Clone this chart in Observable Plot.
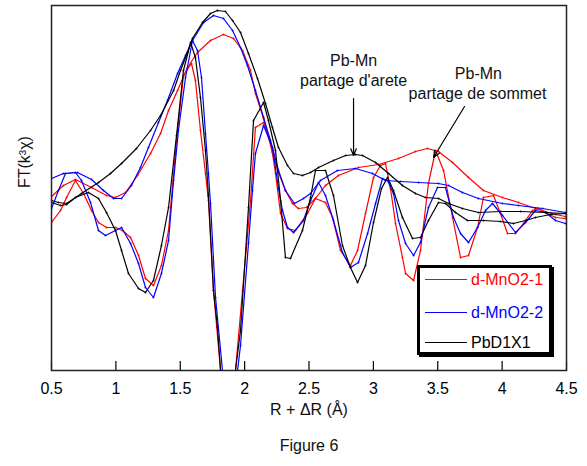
<!DOCTYPE html>
<html>
<head>
<meta charset="utf-8">
<script src="https://cdn.jsdelivr.net/npm/d3@7"></script>
<script src="https://cdn.jsdelivr.net/npm/@observablehq/plot@0.6"></script>
<style>
  html, body { margin: 0; padding: 0; background: #fff; }
  #wrap { position: relative; width: 587px; font-family: "Liberation Sans", Arial, sans-serif; }
  #legend { position: absolute; left: 417px; top: 265px; width: 135px; height: 90px;
            border: 3px solid #000; box-shadow: 2px 2px 0 #000; background: #fff; box-sizing: border-box; }
  .row { position: absolute; left: 5px; height: 18px; font-size: 16px; line-height: 18px; white-space: nowrap; }
  .row span.sw { display: inline-block; width: 42px; height: 0; border-top: 1.3px solid; vertical-align: middle; margin-right: 4px; position: relative; top: -1px; }
</style>
</head>
<body>
<div id="wrap">
  <div id="chart"></div>
  <div id="legend"></div>
</div>
<script>
// x ticks (R + ΔR, Å)
const xTicks = [0.5, 1, 1.5, 2, 2.5, 3, 3.5, 4, 4.5];

// [R, FT] pairs (arbitrary units)
const redMag = [[0.500,2.4],[0.593,3.5],[0.686,4.1],[0.811,3.3],[0.927,2.5],[0.997,2.3],[1.075,2.8],[1.168,4.5],[1.269,6.7],[1.347,8.7],[1.409,11.0],[1.479,13.0],[1.556,15.3],[1.634,16.8],[1.735,18.0],[1.836,18.6],[1.914,18.2],[1.984,17.0],[2.046,15.0],[2.084,12.7],[2.147,10.2],[2.216,6.8],[2.263,4.8],[2.317,3.0],[2.372,1.7],[2.418,1.2],[2.481,1.3],[2.550,2.2],[2.628,3.5],[2.729,4.5],[2.884,5.3],[3.040,5.6],[3.195,6.2],[3.327,6.9],[3.420,7.2],[3.506,6.9],[3.615,5.8],[3.739,4.3],[3.855,3.0],[4.003,2.3],[4.127,1.8],[4.259,1.2],[4.415,0.6],[4.492,0.4]];
const redIm = [[0.500,-0.2],[0.570,1.0],[0.617,2.3],[0.686,4.0],[0.749,2.7],[0.811,1.0],[0.865,-0.2],[0.927,-0.7],[0.997,-0.7],[1.051,-1.0],[1.114,-1.7],[1.176,-3.5],[1.230,-5.8],[1.292,-6.5],[1.354,-4.5],[1.409,-1.0],[1.471,8.0],[1.525,14.5],[1.587,15.7],[1.618,14.0],[1.657,9.0],[1.696,4.7],[1.719,2.0],[1.758,-7.0],[1.813,-15.0],[1.875,-22.5],[1.929,-15.0],[1.984,-7.0],[2.046,2.0],[2.084,9.3],[2.147,9.8],[2.201,8.0],[2.240,4.7],[2.279,0.7],[2.333,-0.8],[2.395,-1.0],[2.488,0.7],[2.550,2.2],[2.628,1.8],[2.683,0.3],[2.745,-3.0],[2.822,-4.5],[2.877,-3.0],[2.939,0.7],[3.001,4.3],[3.055,5.5],[3.094,5.7],[3.133,3.2],[3.172,-0.3],[3.226,-3.7],[3.250,-5.3],[3.312,-6.0],[3.366,-3.0],[3.428,3.7],[3.483,7.0],[3.545,5.0],[3.615,0.3],[3.677,-3.7],[3.739,-3.5],[3.809,-0.7],[3.855,2.3],[3.933,2.5],[3.987,0.7],[4.042,-1.3],[4.104,-1.3],[4.166,-0.3],[4.236,1.0],[4.283,1.2],[4.337,0.8],[4.415,0.3],[4.492,0.2]];
const blueMag = [[0.500,4.2],[0.593,4.7],[0.702,4.8],[0.811,4.1],[0.904,3.0],[0.982,2.2],[1.044,2.2],[1.121,3.5],[1.191,5.3],[1.253,7.3],[1.331,9.8],[1.401,12.0],[1.479,14.7],[1.541,16.5],[1.595,18.0],[1.681,19.8],[1.758,20.5],[1.836,20.2],[1.906,19.0],[1.968,17.3],[2.022,15.5],[2.084,13.0],[2.147,10.3],[2.216,7.3],[2.263,5.0],[2.317,3.0],[2.387,1.7],[2.457,2.2],[2.512,2.7],[2.589,4.0],[2.721,5.0],[2.861,5.2],[2.993,4.7],[3.094,4.0],[3.211,3.9],[3.351,3.8],[3.506,3.7],[3.584,3.5],[3.692,2.8],[3.816,2.2],[4.003,1.7],[4.127,1.5],[4.314,1.2],[4.492,0.8]];
const blueIm = [[0.500,1.2],[0.554,3.0],[0.609,4.7],[0.686,4.8],[0.733,4.0],[0.803,1.8],[0.865,-1.0],[0.919,-1.5],[0.997,-1.0],[1.044,-0.7],[1.114,-2.3],[1.176,-4.3],[1.230,-6.7],[1.292,-7.7],[1.354,-5.3],[1.409,-2.0],[1.448,4.0],[1.486,9.0],[1.541,14.3],[1.595,18.0],[1.634,17.0],[1.665,14.3],[1.696,8.7],[1.719,4.7],[1.735,1.7],[1.774,-7.7],[1.828,-15.0],[1.883,-22.5],[1.945,-15.0],[1.968,-12.5],[2.030,-2.3],[2.061,3.0],[2.084,6.7],[2.147,9.5],[2.216,7.3],[2.263,3.2],[2.294,1.0],[2.333,-0.7],[2.380,-1.2],[2.457,0.0],[2.512,2.0],[2.574,3.8],[2.628,2.5],[2.690,0.0],[2.760,-3.2],[2.822,-4.7],[2.884,-4.2],[2.955,-1.3],[3.017,1.7],[3.071,4.2],[3.110,4.0],[3.156,2.7],[3.195,0.0],[3.250,-2.3],[3.312,-3.5],[3.366,-2.2],[3.428,1.3],[3.498,3.3],[3.560,3.3],[3.622,0.3],[3.677,-1.3],[3.739,-2.2],[3.809,-0.7],[3.871,1.0],[3.925,1.7],[4.003,0.5],[4.104,-1.2],[4.182,-0.2],[4.259,1.0],[4.337,0.8],[4.415,0.0],[4.492,-0.3]];
const blackMag = [[0.500,2.0],[0.554,1.8],[0.617,1.7],[0.733,2.7],[0.865,3.8],[0.958,4.7],[1.044,5.7],[1.160,7.2],[1.269,9.0],[1.347,10.5],[1.448,13.0],[1.502,15.0],[1.556,16.8],[1.595,18.2],[1.673,19.8],[1.735,20.7],[1.789,21.0],[1.851,20.9],[1.906,20.0],[1.968,18.8],[2.030,16.7],[2.100,14.2],[2.162,11.7],[2.216,9.3],[2.263,7.3],[2.333,5.5],[2.380,4.7],[2.449,4.5],[2.512,4.8],[2.574,5.3],[2.690,6.0],[2.784,6.5],[2.861,6.6],[2.916,6.5],[3.017,5.8],[3.118,4.7],[3.226,3.5],[3.327,2.7],[3.405,2.3],[3.506,2.2],[3.584,1.7],[3.692,1.2],[3.816,0.8],[3.987,0.9],[4.143,0.9],[4.337,0.8],[4.492,0.7]];
const blackIm = [[0.500,1.8],[0.570,1.5],[0.617,1.6],[0.686,2.3],[0.787,2.8],[0.865,2.2],[0.927,0.8],[0.997,-1.0],[1.044,-3.0],[1.098,-5.3],[1.176,-6.8],[1.230,-7.2],[1.292,-6.0],[1.354,-2.5],[1.409,1.3],[1.471,8.5],[1.525,15.0],[1.580,17.8],[1.618,16.3],[1.657,12.3],[1.696,7.0],[1.719,2.5],[1.758,-7.0],[1.789,-10.7],[1.813,-15.0],[1.867,-22.5],[1.914,-16.5],[1.968,-11.0],[2.030,1.3],[2.069,10.0],[2.147,11.8],[2.185,10.0],[2.240,7.0],[2.279,2.0],[2.317,-3.7],[2.356,-3.8],[2.449,-1.0],[2.512,2.3],[2.550,5.0],[2.628,5.0],[2.690,2.5],[2.760,-2.5],[2.822,-4.7],[2.877,-6.2],[2.939,-4.5],[3.001,-0.2],[3.063,3.2],[3.110,4.3],[3.156,3.0],[3.226,0.3],[3.304,-1.8],[3.366,-1.7],[3.428,0.0],[3.506,1.8],[3.560,1.7],[3.638,0.8],[3.731,0.0],[3.855,0.0],[3.987,-0.1],[4.088,-0.3],[4.182,0.0],[4.259,0.3],[4.376,0.6],[4.492,0.7]];

const seriesNames = ["d-MnO2-1", "d-MnO2-2", "PbD1X1"];
const seriesColors = ["#ff0000", "#0000ff", "#000000"];
const seriesData = [[redMag, redIm], [blueMag, blueIm], [blackMag, blackIm]];

// annotations
const annoText = [
  {x: 2.846, y: 16.0, text: "Pb-Mn"},
  {x: 2.846, y: 14.0, text: "partage d'arete"},
  {x: 3.816, y: 14.7, text: "Pb-Mn"},
  {x: 3.809, y: 12.7, text: "partage de sommet"}
];
const annoArrows = [
  {x1: 2.846, y1: 12.2, x2: 2.846, y2: 6.5},
  {x1: 3.708, y1: 11.4, x2: 3.467, y2: 6.3}
];

const font = "'Liberation Sans', Arial, sans-serif";
const marks = [];
seriesData.forEach((parts, i) => {
  parts.forEach(pts => {
    const rows = pts.map(([R, v]) => ({R, v}));
    marks.push(Plot.line(rows, {x: "R", y: "v", stroke: seriesColors[i], strokeWidth: 1.2, clip: true}));
    marks.push(Plot.dot(rows, {x: "R", y: "v", fill: seriesColors[i], r: 0.9, clip: true}));
  });
});

const chart = Plot.plot({
  width: 587,
  height: 466,
  marginLeft: 51,
  marginRight: 21,
  marginTop: 5,
  marginBottom: 96,
  style: {fontFamily: font, fontSize: "16px", color: "#000", background: "#fff"},
  x: {domain: [0.5, 4.5], label: null},
  y: {domain: [-15, 21.5], axis: null},
  marks: [
    ...marks,
    Plot.tickX(xTicks, {x: d => d, insetTop: 356, stroke: "#000", strokeWidth: 1.2}),
    Plot.axisX({ticks: xTicks, tickSize: 0, tickPadding: 12, tickFormat: d => String(d), fontSize: 16}),
    Plot.frame({stroke: "#222", strokeWidth: 1.5}),
    Plot.text(annoText, {x: "x", y: "y", text: "text", fontSize: 16, fill: "#111"}),
    Plot.arrow(annoArrows, {x1: "x1", y1: "y1", x2: "x2", y2: "y2", stroke: "#000", strokeWidth: 1.2, headLength: 9, headAngle: 45}),
    Plot.text(["R + \u0394R (\u00C5)"], {frameAnchor: "bottom", dy: 44, fontSize: 16, fill: "#111"}),
    Plot.text(["Figure 6"], {frameAnchor: "bottom", dy: 80, fontSize: 16, fill: "#111"}),
    Plot.text(["FT(k\u00B3\u03C7)"], {frameAnchor: "left", dx: -27, rotate: -90, fontSize: 16, fill: "#111"})
  ]
});
document.getElementById("chart").appendChild(chart);

// legend
const legend = document.getElementById("legend");
const rowTops = [3, 36, 66];
seriesNames.forEach((name, i) => {
  const row = document.createElement("div");
  row.className = "row";
  row.style.top = rowTops[i] + "px";
  row.style.color = seriesColors[i];
  const sw = document.createElement("span");
  sw.className = "sw";
  sw.style.borderTopColor = seriesColors[i];
  row.appendChild(sw);
  row.appendChild(document.createTextNode(name));
  legend.appendChild(row);
});
</script>
</body>
</html>
